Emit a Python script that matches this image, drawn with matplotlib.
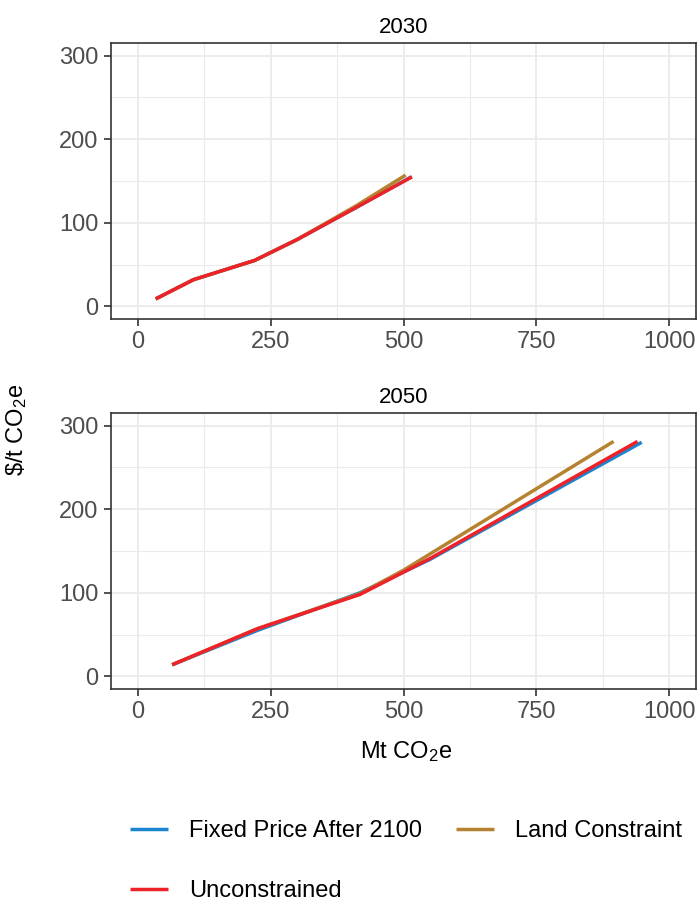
import matplotlib
matplotlib.use("Agg")
import matplotlib.pyplot as plt
from matplotlib.ticker import MultipleLocator

plt.rcParams['font.family'] = ['Liberation Sans', 'DejaVu Sans']
plt.rcParams['mathtext.fontset'] = 'custom'
plt.rcParams['mathtext.rm'] = 'Liberation Sans'
plt.rcParams['mathtext.it'] = 'Liberation Sans'

# values (Mt CO2e, $/t CO2e)
years = ["2030", "2050"]

fixed_2030_x = [34, 105, 220, 300, 410, 515]
fixed_2030_y = [9, 32, 55, 80, 118, 155]
land_2030_x = [34, 105, 220, 300, 410, 504]
land_2030_y = [9, 32, 55, 80, 120, 157]
uncon_2030_x = [34, 105, 220, 300, 410, 516]
uncon_2030_y = [9, 32, 55, 80, 118, 155]

fixed_2050_x = [65, 225, 418, 550, 948]
fixed_2050_y = [14, 55, 100, 140, 280]
land_2050_x = [65, 225, 418, 500, 895]
land_2050_y = [14, 57, 99, 127, 281]
uncon_2050_x = [65, 225, 418, 550, 940]
uncon_2050_y = [14, 57, 98, 141, 281]

series = ["Fixed Price After 2100", "Land Constraint", "Unconstrained"]
colors = ["#1A86D0", "#B5822F", "#EE2229"]

data = {
    "2030": [(fixed_2030_x, fixed_2030_y), (land_2030_x, land_2030_y), (uncon_2030_x, uncon_2030_y)],
    "2050": [(fixed_2050_x, fixed_2050_y), (land_2050_x, land_2050_y), (uncon_2050_x, uncon_2050_y)],
}

W, H = 700, 900
FS = 17
fig = plt.figure(figsize=(7, 9), dpi=100)

boxes = {"2030": (111, 43, 696, 319), "2050": (111, 413, 696, 689)}

handles = []
for yr in years:
    l, t, r, b = boxes[yr]
    ax = fig.add_axes([l / W, (H - b) / H, (r - l) / W, (b - t) / H])
    for (xs, ys), name, c in zip(data[yr], series, colors):
        ln, = ax.plot(xs, ys, color=c, lw=2.5, label=name, solid_capstyle='butt')
        if yr == "2050":
            handles.append(ln)
    ax.set_xlim(-50, 1050)
    ax.set_ylim(-15, 315)
    ax.xaxis.set_major_locator(MultipleLocator(250))
    ax.xaxis.set_minor_locator(MultipleLocator(125))
    ax.yaxis.set_major_locator(MultipleLocator(100))
    ax.yaxis.set_minor_locator(MultipleLocator(50))
    ax.grid(which='major', color='#EBEBEB', lw=1.3)
    ax.grid(which='minor', color='#EBEBEB', lw=0.8)
    ax.set_axisbelow(True)
    ax.tick_params(which='minor', length=0)
    ax.tick_params(which='major', length=5, width=1.2, color='#333333', pad=4,
                   labelsize=FS, labelcolor='#4D4D4D')
    for s in ax.spines.values():
        s.set_color('#333333')
        s.set_linewidth(1.2)
    ax.set_title(yr, fontsize=16, pad=7)

fig.text(17 / W, 1 - 430 / H, r'\$/t CO$_2$e', rotation=90, fontsize=FS,
         ha='center', va='center')
fig.text(406 / W, 1 - 752 / H, r'Mt CO$_2$e', fontsize=FS, ha='center', va='center')

# row-wise order like the reference: Fixed, Land / Unconstrained
order = [0, 2, 1]
fig.legend(handles=[handles[i] for i in order], labels=[series[i] for i in order],
           ncol=2, frameon=False, fontsize=FS,
           loc='upper left', bbox_to_anchor=(130 / W, 1 - 820 / H),
           borderpad=0, borderaxespad=0,
           handlelength=1.6, handletextpad=0.9, columnspacing=1.45, labelspacing=1.6)

fig.savefig("out.png", dpi=100)
